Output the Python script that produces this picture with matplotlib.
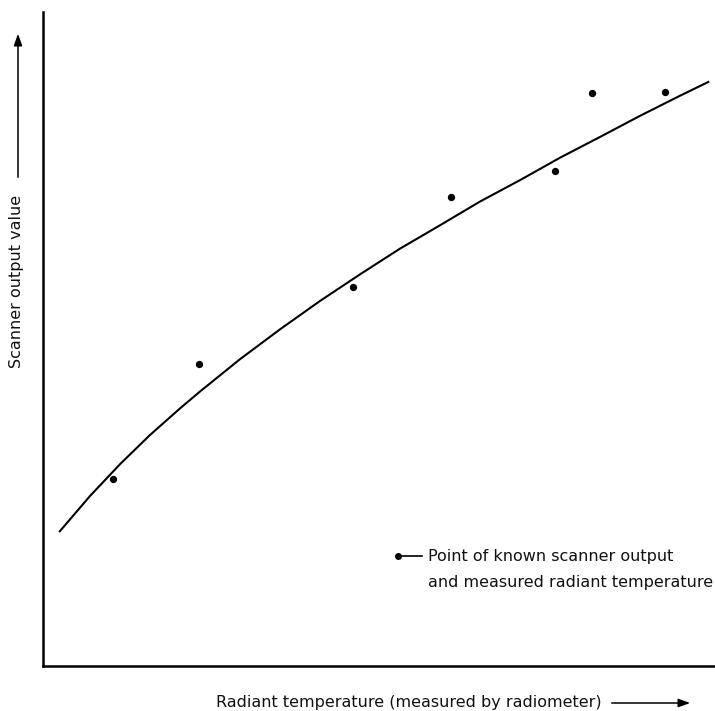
import matplotlib.pyplot as plt
from matplotlib.patches import FancyArrowPatch
from matplotlib.lines import Line2D

plt.rcParams['font.family'] = ['DejaVu Sans']

W, H = 715, 711

# known calibration points (radiant temperature vs scanner output), arbitrary units
point_temp = [10.4, 23.2, 46.1, 60.7, 76.2, 81.7, 92.6]
point_output = [28.6, 46.2, 58.0, 71.7, 75.7, 87.6, 87.8]

# calibration curve
curve_temp = [2.5, 7.0, 11.5, 15.9, 20.4, 23.4, 29.3, 35.3, 41.2, 47.2,
              53.1, 59.1, 65.0, 71.0, 76.9, 82.9, 88.8, 94.8, 99.0]
curve_output = [20.6, 26.0, 30.9, 35.3, 39.4, 42.0, 46.9, 51.5, 55.8, 59.9,
                63.8, 67.4, 71.0, 74.3, 77.7, 80.9, 84.1, 87.2, 89.3]

FS = 11.5
TXT = '#111111'

fig = plt.figure(figsize=(W / 100, H / 100), dpi=100)
ax = fig.add_axes([43 / W, 45 / H, 672 / W, 654 / H])
ax.set_xlim(0, 100)
ax.set_ylim(0, 100)

ax.plot(curve_temp, curve_output, color='black', lw=1.5, solid_joinstyle='round')
ax.scatter(point_temp, point_output, s=18, color='black', zorder=3)

for side in ('top', 'right'):
    ax.spines[side].set_visible(False)
for side in ('left', 'bottom'):
    ax.spines[side].set_linewidth(1.8)
ax.set_xticks([])
ax.set_yticks([])

# note explaining the dots
fig.text(428 / W, 1 - 557 / H, 'Point of known scanner output',
         fontsize=FS, va='center', ha='left', color=TXT)
fig.text(428 / W, 1 - 583 / H, 'and measured radiant temperature',
         fontsize=FS, va='center', ha='left', color=TXT)
fig.add_artist(Line2D([398 / W, 422 / W], [1 - 556 / H, 1 - 556 / H], color='black', lw=1.2))
fig.add_artist(Line2D([398 / W], [1 - 556 / H], marker='o', ms=4, color='black'))

# axis labels with arrows
fig.text(602 / W, 1 - 703 / H, 'Radiant temperature (measured by radiometer)',
         fontsize=FS, va='center', ha='right', color=TXT)
fig.add_artist(FancyArrowPatch(
    (609 / W, 1 - 703 / H), (693 / W, 1 - 703 / H), transform=fig.transFigure,
    arrowstyle='-|>,head_length=7,head_width=2.5', color='black', lw=1.1, mutation_scale=1))

fig.text(17 / W, 1 - 368 / H, 'Scanner output value', rotation=90,
         fontsize=FS, va='bottom', ha='center', color=TXT)
fig.add_artist(FancyArrowPatch(
    (18 / W, 1 - 180 / H), (18 / W, 1 - 31 / H), transform=fig.transFigure,
    arrowstyle='-|>,head_length=7,head_width=2.5', color='black', lw=1.1, mutation_scale=1))

fig.savefig('out.png', dpi=100)
